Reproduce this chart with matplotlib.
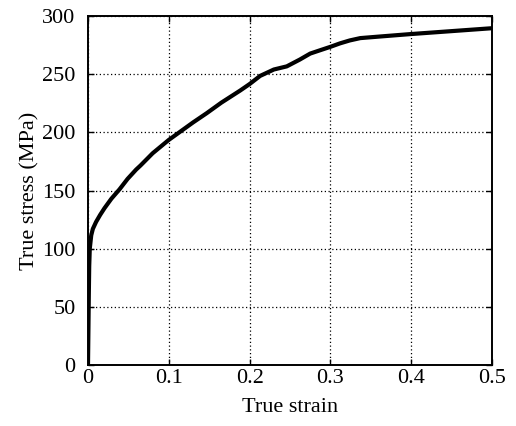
import matplotlib
matplotlib.use("Agg")
import matplotlib.pyplot as plt

# true strain / true stress (MPa)
strain = [0.0, 0.0005, 0.001, 0.0015, 0.0022, 0.004, 0.006, 0.010, 0.015, 0.0204,
          0.029, 0.039, 0.049, 0.0596, 0.065, 0.080, 0.100, 0.114, 0.130, 0.147,
          0.165, 0.1885, 0.200, 0.213, 0.230, 0.246, 0.262, 0.275, 0.287, 0.300,
          0.312, 0.324, 0.337, 0.360, 0.400, 0.450, 0.500]
stress = [0.0, 30.0, 60.0, 85.0, 100.0, 111.5, 117.0, 123.0, 129.0, 134.8,
          143.0, 151.0, 160.0, 168.0, 171.5, 182.0, 193.5, 200.5, 208.5, 216.5,
          225.5, 236.0, 241.5, 248.5, 254.0, 256.7, 262.5, 267.7, 270.5, 273.5,
          276.5, 279.0, 281.0, 282.3, 284.5, 287.0, 289.5]

xticks = [0, 0.1, 0.2, 0.3, 0.4, 0.5]
xticklabels = ["0", "0.1", "0.2", "0.3", "0.4", "0.5"]
yticks = [0, 50, 100, 150, 200, 250, 300]

plt.rcParams["font.family"] = ["Liberation Serif", "DejaVu Serif"]

fig = plt.figure(figsize=(5.16, 4.26), dpi=100)
ax = fig.add_axes([88 / 516, 61 / 426, 404 / 516, 349 / 426])

ax.plot(strain, stress, color="black", linewidth=3.0,
        solid_capstyle="round", solid_joinstyle="round")

ax.set_xlim(0, 0.5)
ax.set_ylim(0, 300)
ax.set_xticks(xticks)
ax.set_xticklabels(xticklabels)
ax.set_yticks(yticks)
ax.grid(True, color="black", linestyle=(0, (1, 2)), linewidth=0.9)
ax.tick_params(direction="in", length=4, width=1, top=True, right=True,
               labelsize=16, colors="black")
ax.tick_params(axis="x", pad=3)
ax.tick_params(axis="y", pad=9)
for s in ax.spines.values():
    s.set_linewidth(1.4)
    s.set_color("black")

ax.set_xlabel("True strain", fontsize=16, labelpad=7)
ax.set_ylabel("True stress (MPa)", fontsize=16, labelpad=2)

fig.savefig("out.png", dpi=100)
plt.close(fig)
